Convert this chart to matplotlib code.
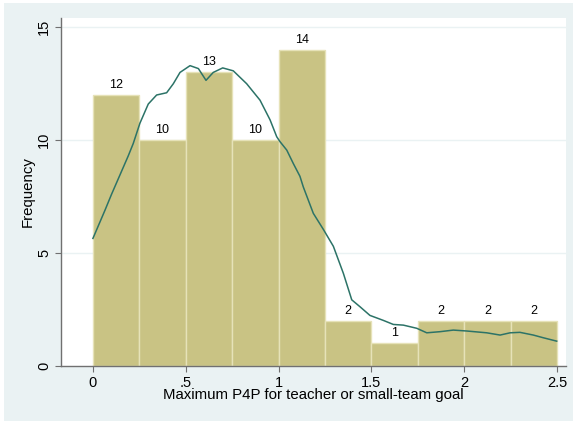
import matplotlib
matplotlib.use("Agg")
import matplotlib.pyplot as plt
from matplotlib.patches import Rectangle
import numpy as np

# histogram bins and counts
bin_edges = [0, 0.25, 0.5, 0.75, 1.0, 1.25, 1.5, 1.75, 2.0, 2.25, 2.5]
counts = [12, 10, 13, 10, 14, 2, 1, 2, 2, 2]

# kernel density overlay (frequency scale)
kde_x = [0.0, 0.065, 0.1, 0.145, 0.19, 0.217, 0.253, 0.298, 0.343, 0.397,
         0.433, 0.469, 0.523, 0.568, 0.609, 0.648, 0.699, 0.756, 0.828, 0.9,
         0.954, 0.99, 1.008, 1.044, 1.079, 1.115, 1.133, 1.187, 1.241, 1.295,
         1.349, 1.394, 1.439, 1.492, 1.564, 1.618, 1.672, 1.744, 1.798, 1.87,
         1.941, 2.013, 2.121, 2.193, 2.247, 2.3, 2.372, 2.426, 2.498]
kde_y = [5.65, 6.9, 7.6, 8.45, 9.3, 9.85, 10.75, 11.6, 12.0, 12.1,
         12.5, 13.0, 13.3, 13.17, 12.65, 13.0, 13.2, 13.07, 12.5, 11.77,
         10.9, 10.15, 9.93, 9.56, 8.97, 8.4, 7.93, 6.76, 6.05, 5.3,
         4.1, 2.93, 2.62, 2.24, 2.02, 1.84, 1.81, 1.67, 1.47, 1.52,
         1.59, 1.55, 1.47, 1.37, 1.47, 1.49, 1.37, 1.25, 1.1]

xticks = [0, 0.5, 1, 1.5, 2, 2.5]
xtick_labels = ["0", ".5", "1", "1.5", "2", "2.5"]
yticks = [0, 5, 10, 15]

plt.rcParams['font.family'] = ['Liberation Sans', 'DejaVu Sans']

fig = plt.figure(figsize=(5.73, 4.21), dpi=100, facecolor='white')
# stata-like outer background
fig.patches.append(Rectangle((4 / 573, 0), 1, 1 - 3 / 421, transform=fig.transFigure,
                             facecolor='#EAF2F3', edgecolor='none', zorder=-10))

ax = fig.add_axes([61 / 573, 55 / 421, 505 / 573, 348 / 421])
ax.set_facecolor('white')

edges = np.array(bin_edges)
ax.bar(edges[:-1], counts, width=np.diff(edges), align='edge',
       color='#C9C384', edgecolor='#E6E2B8', linewidth=1.0, zorder=2)

for x0, w, c in zip(edges[:-1], np.diff(edges), counts):
    ax.annotate(str(c), (x0 + w / 2, c), xytext=(0, 3), textcoords='offset points',
                ha='center', va='bottom', fontsize=9, color='black', zorder=4)

ax.plot(kde_x, kde_y, color='#2C7367', linewidth=1.1, zorder=3)

ax.set_xlim(-0.172, 2.548)
ax.set_ylim(0, 15.41)
ax.set_xticks(xticks)
ax.set_xticklabels(xtick_labels)
ax.set_yticks(yticks)
ax.set_yticklabels([str(v) for v in yticks], rotation=90, va='center')

for y in yticks[1:]:
    ax.axhline(y, color='#EAF2F3', linewidth=1.0, zorder=1)

for side in ['top', 'right']:
    ax.spines[side].set_visible(False)
for side in ['left', 'bottom']:
    ax.spines[side].set_color('#707070')
    ax.spines[side].set_linewidth(1.0)

ax.tick_params(axis='both', length=4.5, width=0.8, color='#707070',
               labelsize=10.5, labelcolor='black', pad=2.5)

ax.set_xlabel('Maximum P4P for teacher or small-team goal', fontsize=10.8, labelpad=-1)
ax.set_ylabel('Frequency', fontsize=10.8, labelpad=2)

fig.savefig('out.png', dpi=100, facecolor='white')
